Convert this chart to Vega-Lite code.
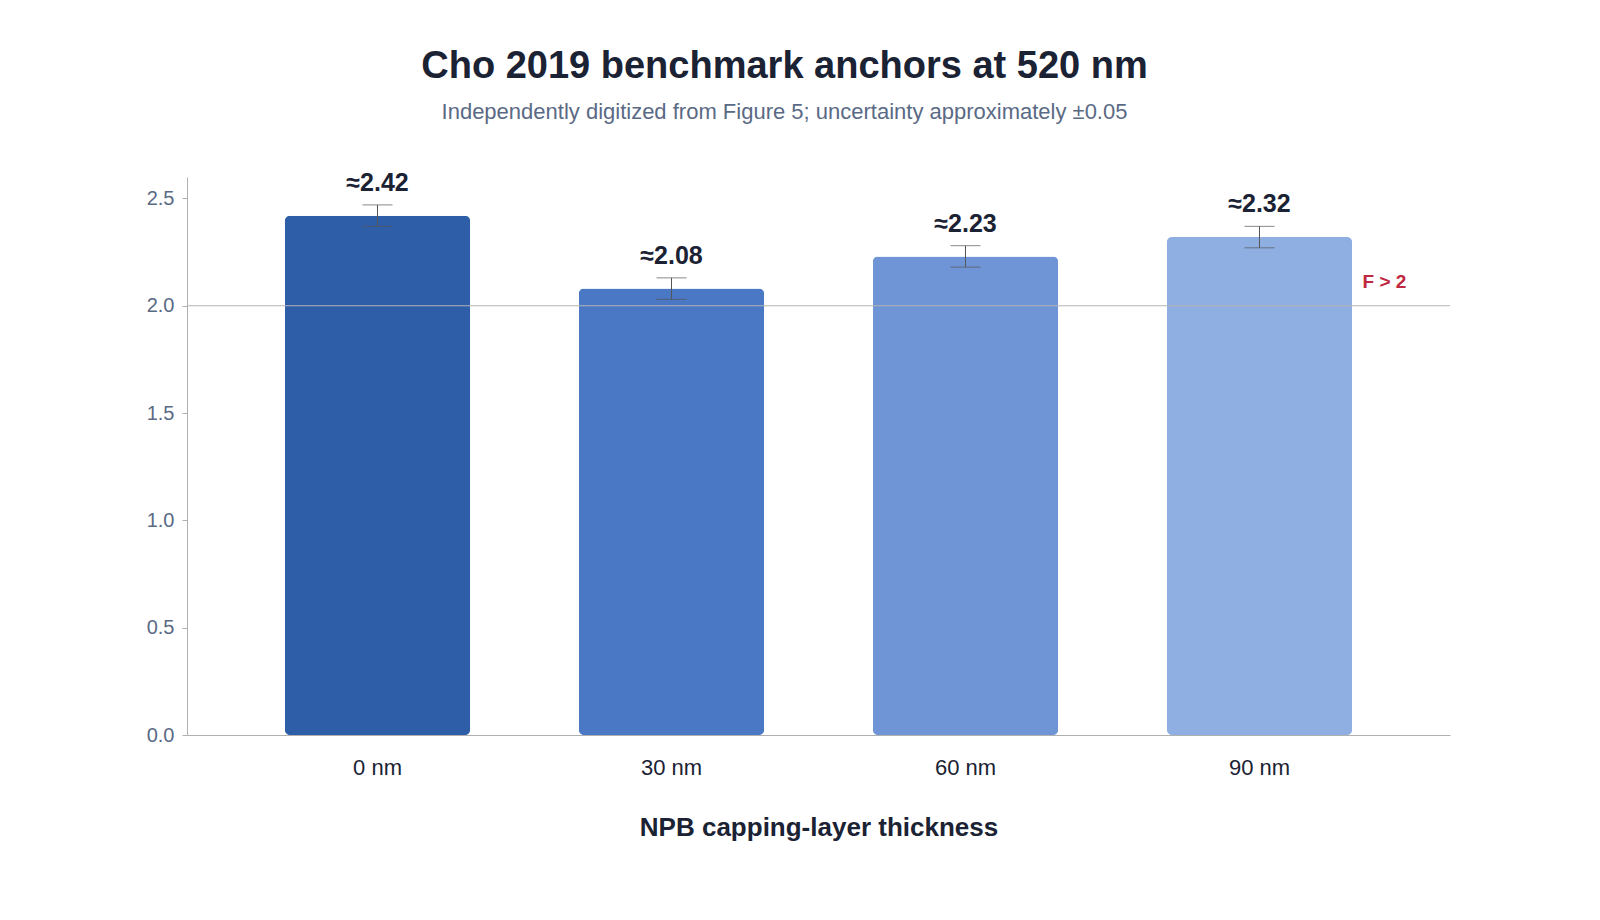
{
  "$schema": "https://vega.github.io/schema/vega-lite/v6.json",
  "width": 1263,
  "height": 558,
  "autosize": "none",
  "padding": {"left": 187, "top": 177, "right": 150, "bottom": 185},
  "background": "white",
  "config": {"view": {"stroke": null}, "font": "Liberation Sans"},
  "title": {
    "text": "Cho 2019 benchmark anchors at 520 nm",
    "subtitle": "Independently digitized from Figure 5; uncertainty approximately ±0.05",
    "fontSize": 38,
    "fontWeight": "bold",
    "color": "#1a2233",
    "subtitleFontSize": 22,
    "subtitleColor": "#5a6a85",
    "subtitlePadding": 16,
    "offset": 48,
    "anchor": "middle",
    "dx": -34
  },
  "data": {
    "values": [
      {"thickness": "0 nm", "F": 2.42, "lo": 2.37, "hi": 2.47, "label": "≈2.42"},
      {"thickness": "30 nm", "F": 2.08, "lo": 2.03, "hi": 2.13, "label": "≈2.08"},
      {"thickness": "60 nm", "F": 2.23, "lo": 2.18, "hi": 2.28, "label": "≈2.23"},
      {"thickness": "90 nm", "F": 2.32, "lo": 2.27, "hi": 2.37, "label": "≈2.32"}
    ]
  },
  "encoding": {
    "x": {
      "field": "thickness",
      "type": "nominal",
      "sort": null,
      "scale": {"paddingInner": 0.37, "paddingOuter": 0.333},
      "axis": {
        "title": "NPB capping-layer thickness",
        "titleFontSize": 26,
        "titleFontWeight": "bold",
        "titleColor": "#1a2233",
        "titlePadding": 36,
        "labelFontSize": 22,
        "labelColor": "#1a2233",
        "labelAngle": 0,
        "labelPadding": 22,
        "ticks": false,
        "domainColor": "#b0b0b0"
      }
    }
  },
  "layer": [
    {
      "mark": {"type": "bar", "cornerRadius": 5},
      "encoding": {
        "y": {
          "field": "F",
          "type": "quantitative",
          "scale": {"domain": [0, 2.5]},
          "axis": {
            "title": null,
            "values": [0, 0.5, 1, 1.5, 2, 2.5],
            "format": ".1f",
            "grid": false,
            "labelFontSize": 20,
            "labelColor": "#5a6a85",
            "labelPadding": 8,
            "tickColor": "#b0b0b0",
            "domainColor": "#b0b0b0"
          }
        },
        "color": {
          "field": "thickness",
          "type": "nominal",
          "sort": null,
          "scale": {"range": ["#2f5ea8", "#4a78c4", "#6f95d6", "#8fafe3"]},
          "legend": null
        }
      }
    },
    {
      "data": {"values": [{"v": 2}]},
      "mark": {"type": "rule", "color": "#b5b5b5", "strokeWidth": 1.2},
      "encoding": {"x": null, "y": {"field": "v", "type": "quantitative"}}
    },
    {
      "data": {"values": [{"v": 2, "thickness": "90 nm", "t": "F > 2"}]},
      "mark": {"type": "text", "color": "#c0283f", "fontWeight": "bold", "fontSize": 19, "dx": 125, "dy": -24},
      "encoding": {"y": {"field": "v", "type": "quantitative"}, "text": {"field": "t"}}
    },
    {
      "mark": {"type": "rule", "color": "#555555", "strokeWidth": 1},
      "encoding": {"y": {"field": "lo", "type": "quantitative"}, "y2": {"field": "hi"}}
    },
    {
      "mark": {"type": "tick", "color": "#555555", "thickness": 1, "size": 30},
      "encoding": {"y": {"field": "lo", "type": "quantitative"}}
    },
    {
      "mark": {"type": "tick", "color": "#555555", "thickness": 1, "size": 30},
      "encoding": {"y": {"field": "hi", "type": "quantitative"}}
    },
    {
      "mark": {"type": "text", "fontSize": 25, "fontWeight": "bold", "color": "#1a2233", "dy": -22},
      "encoding": {"y": {"field": "hi", "type": "quantitative"}, "text": {"field": "label"}}
    }
  ]
}
